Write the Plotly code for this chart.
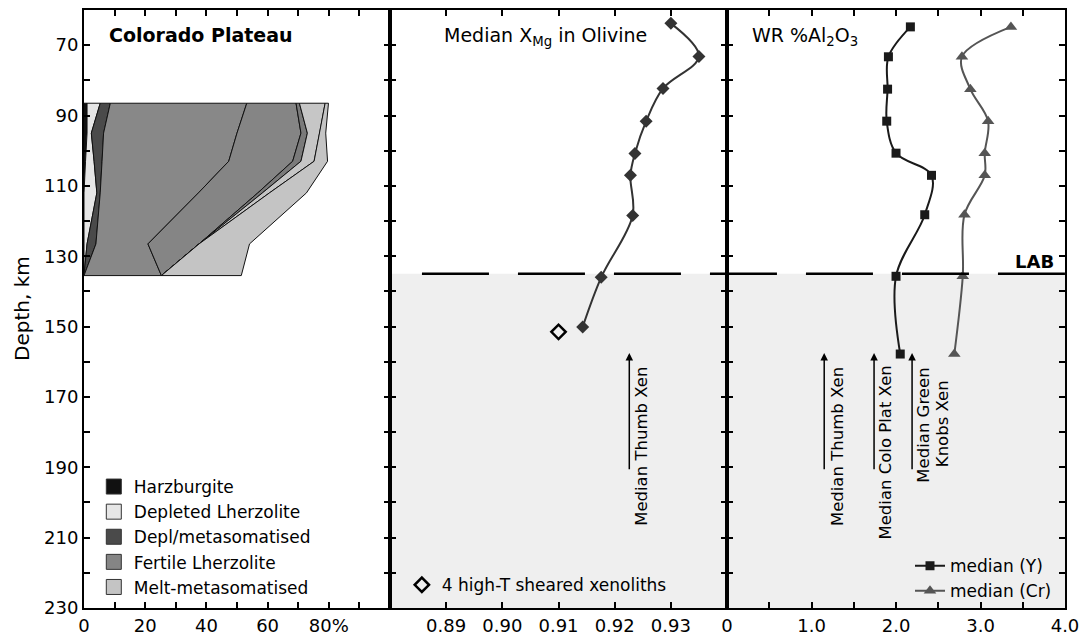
import numpy as np
import plotly.graph_objects as go

# ---------------- data ----------------
DEPTH_RANGE = [230, 60]
LAB_DEPTH = 135

# Panel 1: lithology proportions (%) at depth levels (stacked left to right)
layer_depths = [86.5, 95, 103, 112, 126.5, 135.5]
harzburgite = [1.0, 1.0, 0.5, 0.0, 0.0, 0.0]
depleted_lherz = [4.3, 1.4, 2.8, 4.2, 1.0, 0.0]
depl_metasom = [3.3, 4.0, 2.6, 1.1, 2.9, 0.0]
fertile_a = [44.6, 43.6, 41.4, 32.1, 17.0, 25.3]
fertile_b = [16.1, 20.9, 20.9, 19.4, 16.7, 0.0]
fertile_c = [1.1, 2.1, 2.7, 1.5, 0.0, 0.0]
melt_a = [8.4, 4.0, 4.3, 2.3, 0.0, 0.0]
melt_b = [1.1, 2.0, 4.4, 12.1, 16.5, 26.1]

legend_names = ["Harzburgite", "Depleted Lherzolite", "Depl/metasomatised",
                "Fertile Lherzolite", "Melt-metasomatised"]
legend_colors = ["#111111", "#e6e6e6", "#4a4a4a", "#858585", "#c4c4c4"]

# Panel 2: median XMg in olivine
olivine_depth = [63.8, 73.2, 82.3, 91.6, 100.8, 107.0, 118.4, 136.0, 150.1]
olivine_xmg = [0.9300, 0.9350, 0.9286, 0.9256, 0.9236, 0.9228, 0.9232, 0.9176, 0.9143]
sheared_depth = [151.5]
sheared_xmg = [0.9100]

# Panel 3: WR %Al2O3
wr_depth = [64.8, 73.3, 82.5, 91.6, 100.7, 107.0, 118.2, 135.7, 157.8]
al_median_y = [2.17, 1.91, 1.90, 1.89, 2.00, 2.42, 2.34, 2.00, 2.05]
al_median_cr = [3.36, 2.78, 2.88, 3.09, 3.05, 3.05, 2.81, 2.79, 2.69]

# reference arrows (x position, tail depth, head depth)
thumb_xmg = 0.9226
thumb_al = 1.15
colo_al = 1.74
green_al = 2.19
arrow_tail = 191
arrow_head = 157.5

# ---------------- figure ----------------
FONT = "DejaVu Sans"
fig = go.Figure()

layers = [
    (harzburgite, "#111111"),
    (depleted_lherz, "#e6e6e6"),
    (depl_metasom, "#4a4a4a"),
    (fertile_a, "#888888"),
    (fertile_b, "#858585"),
    (fertile_c, "#7a7a7a"),
    (melt_a, "#c6c6c6"),
    (melt_b, "#c4c4c4"),
]
cum = np.zeros(len(layer_depths))
for vals, color in layers:
    lower = cum.copy()
    upper = cum + np.array(vals)
    xs = list(lower) + list(upper[::-1]) + [lower[0]]
    ys = list(layer_depths) + list(layer_depths[::-1]) + [layer_depths[0]]
    fig.add_trace(go.Scatter(x=xs, y=ys, mode="lines", fill="toself",
                             fillcolor=color, line=dict(color="#111111", width=1),
                             showlegend=False, hoverinfo="skip",
                             xaxis="x", yaxis="y"))
    cum = upper

for name, color in zip(legend_names, legend_colors):
    fig.add_trace(go.Scatter(x=[None], y=[None], mode="markers", name=name,
                             marker=dict(symbol="square", size=15, color=color,
                                         line=dict(color="#333333", width=1)),
                             legend="legend", xaxis="x", yaxis="y"))

fig.add_trace(go.Scatter(x=olivine_xmg, y=olivine_depth, mode="lines+markers",
                         line=dict(color="#333333", width=2, shape="spline"),
                         marker=dict(symbol="diamond", size=10, color="#333333"),
                         showlegend=False, xaxis="x2", yaxis="y2"))
fig.add_trace(go.Scatter(x=sheared_xmg, y=sheared_depth, mode="markers",
                         name="4 high-T sheared xenoliths",
                         marker=dict(symbol="diamond-open", size=11, color="#000000",
                                     line=dict(width=2.5, color="#000000")),
                         legend="legend2", xaxis="x2", yaxis="y2"))

fig.add_trace(go.Scatter(x=al_median_y, y=wr_depth, mode="lines+markers",
                         name="median (Y)",
                         line=dict(color="#1a1a1a", width=2, shape="spline"),
                         marker=dict(symbol="square", size=9, color="#1a1a1a"),
                         legend="legend3", xaxis="x3", yaxis="y3"))
fig.add_trace(go.Scatter(x=al_median_cr, y=wr_depth, mode="lines+markers",
                         name="median (Cr)",
                         line=dict(color="#555555", width=2, shape="spline"),
                         marker=dict(symbol="triangle-up", size=11, color="#555555"),
                         legend="legend3", xaxis="x3", yaxis="y3"))

# ---------------- axes ----------------
D1 = [0, 0.3119]
D2 = [0.3119, 0.6555]
D3 = [0.6555, 1.0]

common = dict(showline=True, linewidth=2, linecolor="black", mirror="ticks",
              ticks="inside", ticklen=6, tickwidth=1.5, tickcolor="black",
              showgrid=False, zeroline=False, automargin=False,
              tickfont=dict(family=FONT, size=18, color="black"))

x1_vals = list(range(0, 101, 10))
x1_text = ["0", "", "20", "", "40", "", "60", "", "80%", "", ""]
x2_vals = [0.88, 0.89, 0.90, 0.91, 0.92, 0.93, 0.94]
x2_text = ["", "0.89", "0.90", "0.91", "0.92", "0.93", ""]
x3_vals = [0, 0.5, 1, 1.5, 2, 2.5, 3, 3.5, 4]
x3_text = ["0", "", "1.0", "", "2.0", "", "3.0", "", "4.0"]
y_vals = list(range(60, 231, 10))
y_text = [str(v) if (v - 70) % 20 == 0 else "" for v in y_vals]

fig.update_layout(
    xaxis=dict(domain=D1, range=[0, 100], anchor="y", tickvals=x1_vals,
               ticktext=x1_text, **common),
    xaxis2=dict(domain=D2, range=[0.88, 0.94], anchor="y2", tickvals=x2_vals,
                ticktext=x2_text, **common),
    xaxis3=dict(domain=D3, range=[0, 4], anchor="y3", tickvals=x3_vals,
                ticktext=x3_text, **common),
    yaxis=dict(range=DEPTH_RANGE, anchor="x", tickvals=y_vals, ticktext=y_text,
               **common),
    yaxis2=dict(range=DEPTH_RANGE, anchor="x2", tickvals=y_vals,
                showticklabels=False, **common),
    yaxis3=dict(range=DEPTH_RANGE, anchor="x3", tickvals=y_vals,
                showticklabels=False, **common),
)

# ---------------- shapes ----------------
shapes = []
for xr, yr in (("x2 domain", "y2"), ("x3 domain", "y3")):
    shapes.append(dict(type="rect", xref=xr, yref=yr, x0=0, x1=1,
                       y0=LAB_DEPTH, y1=DEPTH_RANGE[0], fillcolor="#efefef",
                       line=dict(width=0), layer="below"))
shapes.append(dict(type="line", xref="paper", yref="y2", x0=0.3445, x1=1.0,
                   y0=LAB_DEPTH, y1=LAB_DEPTH,
                   line=dict(color="black", width=2.5, dash="67px,29px")))

# ---------------- annotations ----------------
ann = []
for xr, yr, xv in (("x2", "y2", thumb_xmg), ("x3", "y3", thumb_al),
                   ("x3", "y3", colo_al), ("x3", "y3", green_al)):
    ann.append(dict(x=xv, y=arrow_head, ax=xv, ay=arrow_tail, xref=xr, yref=yr,
                    axref=xr, ayref=yr, text="", showarrow=True, arrowhead=2,
                    arrowsize=1, arrowwidth=1.5, arrowcolor="black"))

tfont = dict(family=FONT, size=16.5, color="black")
rot = dict(textangle=-90, showarrow=False, font=tfont, xanchor="center",
           yanchor="middle")
ann += [
    dict(x=0.9248, y=184, xref="x2", yref="y2", text="Median Thumb Xen", **rot),
    dict(x=1.30, y=184, xref="x3", yref="y3", text="Median Thumb Xen", **rot),
    dict(x=1.87, y=185.8, xref="x3", yref="y3", text="Median Colo Plat Xen", **rot),
    dict(x=2.33, y=177.9, xref="x3", yref="y3", text="Median Green", **rot),
    dict(x=2.55, y=177.6, xref="x3", yref="y3", text="Knobs Xen", **rot),
    dict(x=7.5, y=67.0, xref="x", yref="y", text="<b>Colorado Plateau</b>",
         xanchor="left", showarrow=False, font=dict(family=FONT, size=19, color="black")),
    dict(x=0.8892, y=67.5, xref="x2", yref="y2", text="Median X<sub>Mg</sub> in Olivine",
         xanchor="left", showarrow=False, font=dict(family=FONT, size=19, color="black")),
    dict(x=0.272, y=67.5, xref="x3", yref="y3", text="WR %Al<sub>2</sub>O<sub>3</sub>",
         xanchor="left", showarrow=False, font=dict(family=FONT, size=19, color="black")),
    dict(x=3.64, y=131.4, xref="x3", yref="y3", text="<b>LAB</b>",
         showarrow=False, font=dict(family=FONT, size=18, color="black")),
    dict(x=-0.0632, y=0.5, xref="paper", yref="paper", text="Depth, km",
         textangle=-90, showarrow=False, xanchor="center", yanchor="middle",
         font=dict(family=FONT, size=20, color="black")),
]

lfont = dict(family=FONT, size=17, color="black")
fig.update_layout(
    shapes=shapes,
    annotations=ann,
    width=1088, height=635,
    margin=dict(l=84, r=23, t=10, b=27),
    paper_bgcolor="white", plot_bgcolor="white",
    font=dict(family=FONT, size=18, color="black"),
    legend=dict(x=0.010, y=0.005, xanchor="left", yanchor="bottom",
                bgcolor="rgba(0,0,0,0)", font=lfont, itemsizing="trace",
                tracegroupgap=0),
    legend2=dict(x=0.324, y=0.008, xanchor="left", yanchor="bottom",
                 bgcolor="rgba(0,0,0,0)", font=lfont, itemsizing="trace"),
    legend3=dict(x=0.842, y=-0.002, xanchor="left", yanchor="bottom",
                 bgcolor="rgba(0,0,0,0)", font=lfont, itemsizing="trace"),
)

fig.write_html("out.html")
